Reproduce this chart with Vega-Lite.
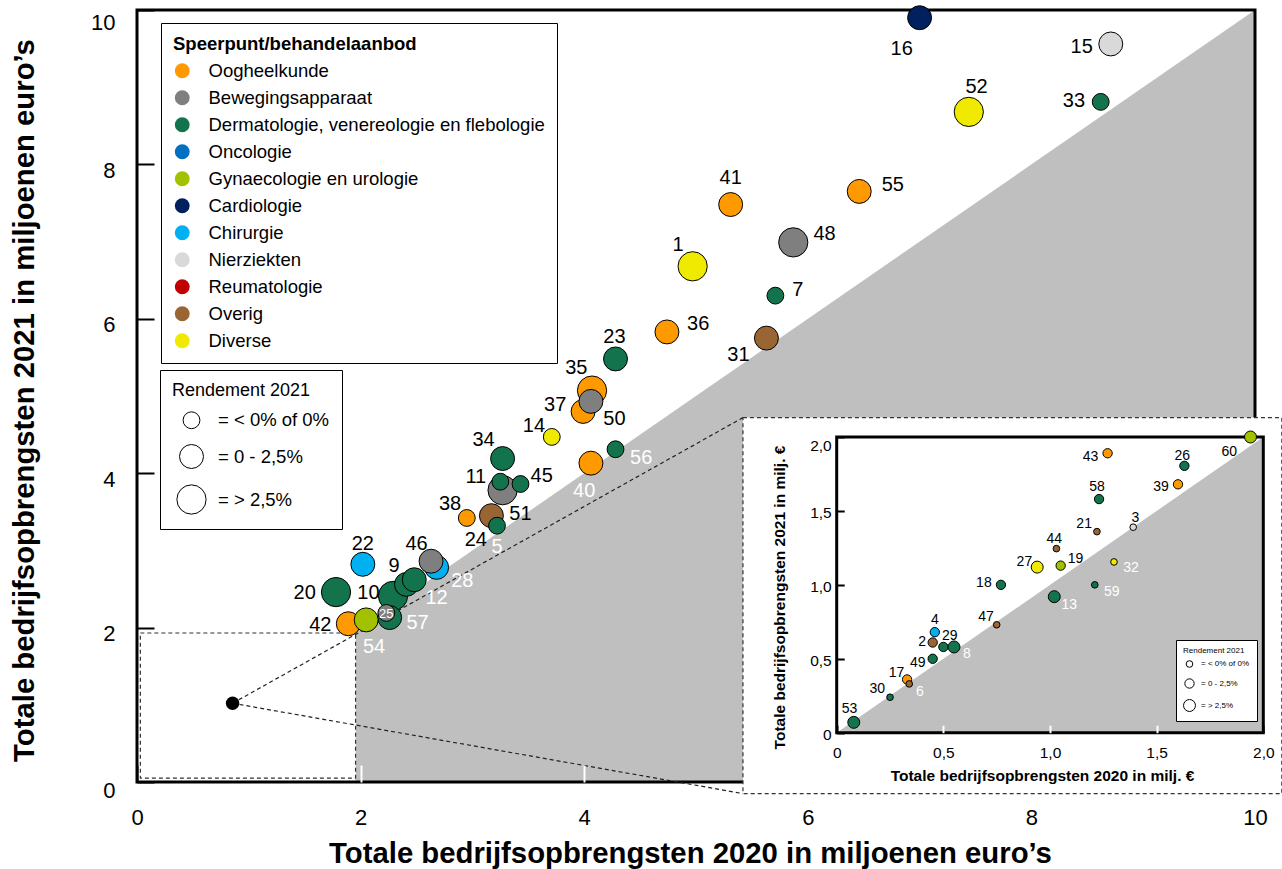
{
  "$schema": "https://vega.github.io/schema/vega-lite/v6.json",
  "width": 1118,
  "height": 772,
  "autosize": {"type": "none"},
  "padding": {"left": 137, "top": 10, "right": 27, "bottom": 87},
  "background": "white",
  "config": {
    "font": "Liberation Sans",
    "view": {"stroke": null},
    "axis": {"grid": false, "domain": false, "labelColor": "black", "titleColor": "black"},
    "legend": {"symbolBaseFillColor": "white", "symbolBaseStrokeColor": "black", "labelColor": "black", "titleColor": "black"}
  },
  "datasets": {
    "main": [
      {"id": 20, "x": 1.78, "y": 2.46, "cat": "Dermatologie, venereologie en flebologie", "r": "= > 2,5%", "lx": 1.50, "ly": 2.46},
      {"id": 22, "x": 2.02, "y": 2.82, "cat": "Chirurgie", "r": "= 0 - 2,5%", "lx": 2.02, "ly": 3.09},
      {"id": 10, "x": 2.29, "y": 2.41, "cat": "Dermatologie, venereologie en flebologie", "r": "= > 2,5%", "lx": 2.07, "ly": 2.46},
      {"id": 9, "x": 2.41, "y": 2.56, "cat": "Dermatologie, venereologie en flebologie", "r": "= 0 - 2,5%", "lx": 2.30, "ly": 2.81},
      {"id": 12, "x": 2.48, "y": 2.62, "cat": "Dermatologie, venereologie en flebologie", "r": "= 0 - 2,5%", "lx": 2.68, "ly": 2.40},
      {"id": 28, "x": 2.68, "y": 2.78, "cat": "Chirurgie", "r": "= 0 - 2,5%", "lx": 2.91, "ly": 2.62},
      {"id": 46, "x": 2.63, "y": 2.86, "cat": "Bewegingsapparaat", "r": "= 0 - 2,5%", "lx": 2.50, "ly": 3.09},
      {"id": 57, "x": 2.26, "y": 2.13, "cat": "Dermatologie, venereologie en flebologie", "r": "= 0 - 2,5%", "lx": 2.51, "ly": 2.07},
      {"id": 25, "x": 2.23, "y": 2.19, "cat": "Bewegingsapparaat", "r": "= < 0% of 0%", "lx": 2.23, "ly": 2.19},
      {"id": 42, "x": 1.89, "y": 2.05, "cat": "Oogheelkunde", "r": "= 0 - 2,5%", "lx": 1.64, "ly": 2.05},
      {"id": 54, "x": 2.05, "y": 2.10, "cat": "Gynaecologie en urologie", "r": "= 0 - 2,5%", "lx": 2.12, "ly": 1.76},
      {"id": 38, "x": 2.95, "y": 3.42, "cat": "Oogheelkunde", "r": "= < 0% of 0%", "lx": 2.80, "ly": 3.62},
      {"id": 51, "x": 3.27, "y": 3.78, "cat": "Bewegingsapparaat", "r": "= > 2,5%", "lx": 3.43, "ly": 3.48},
      {"id": 24, "x": 3.17, "y": 3.45, "cat": "Overig", "r": "= 0 - 2,5%", "lx": 3.03, "ly": 3.15},
      {"id": 5, "x": 3.22, "y": 3.32, "cat": "Dermatologie, venereologie en flebologie", "r": "= < 0% of 0%", "lx": 3.22, "ly": 3.06},
      {"id": 34, "x": 3.27, "y": 4.19, "cat": "Dermatologie, venereologie en flebologie", "r": "= 0 - 2,5%", "lx": 3.10, "ly": 4.44},
      {"id": 11, "x": 3.25, "y": 3.89, "cat": "Dermatologie, venereologie en flebologie", "r": "= < 0% of 0%", "lx": 3.03, "ly": 3.96},
      {"id": 45, "x": 3.43, "y": 3.86, "cat": "Dermatologie, venereologie en flebologie", "r": "= < 0% of 0%", "lx": 3.62, "ly": 3.98},
      {"id": 14, "x": 3.71, "y": 4.47, "cat": "Diverse", "r": "= < 0% of 0%", "lx": 3.55, "ly": 4.62},
      {"id": 35, "x": 4.07, "y": 5.07, "cat": "Oogheelkunde", "r": "= > 2,5%", "lx": 3.93, "ly": 5.38},
      {"id": 37, "x": 3.99, "y": 4.80, "cat": "Oogheelkunde", "r": "= 0 - 2,5%", "lx": 3.74, "ly": 4.90},
      {"id": 50, "x": 4.06, "y": 4.93, "cat": "Bewegingsapparaat", "r": "= 0 - 2,5%", "lx": 4.27, "ly": 4.72},
      {"id": 40, "x": 4.06, "y": 4.13, "cat": "Oogheelkunde", "r": "= 0 - 2,5%", "lx": 4.00, "ly": 3.78},
      {"id": 56, "x": 4.28, "y": 4.31, "cat": "Dermatologie, venereologie en flebologie", "r": "= < 0% of 0%", "lx": 4.51, "ly": 4.21},
      {"id": 23, "x": 4.28, "y": 5.48, "cat": "Dermatologie, venereologie en flebologie", "r": "= 0 - 2,5%", "lx": 4.27, "ly": 5.78},
      {"id": 36, "x": 4.74, "y": 5.83, "cat": "Oogheelkunde", "r": "= 0 - 2,5%", "lx": 5.02, "ly": 5.95},
      {"id": 1, "x": 4.97, "y": 6.68, "cat": "Diverse", "r": "= > 2,5%", "lx": 4.84, "ly": 6.97},
      {"id": 31, "x": 5.63, "y": 5.75, "cat": "Overig", "r": "= 0 - 2,5%", "lx": 5.38, "ly": 5.55},
      {"id": 7, "x": 5.71, "y": 6.30, "cat": "Dermatologie, venereologie en flebologie", "r": "= < 0% of 0%", "lx": 5.91, "ly": 6.38},
      {"id": 48, "x": 5.87, "y": 6.99, "cat": "Bewegingsapparaat", "r": "= > 2,5%", "lx": 6.15, "ly": 7.11},
      {"id": 41, "x": 5.31, "y": 7.48, "cat": "Oogheelkunde", "r": "= 0 - 2,5%", "lx": 5.31, "ly": 7.84},
      {"id": 55, "x": 6.46, "y": 7.65, "cat": "Oogheelkunde", "r": "= 0 - 2,5%", "lx": 6.76, "ly": 7.75},
      {"id": 52, "x": 7.44, "y": 8.68, "cat": "Diverse", "r": "= > 2,5%", "lx": 7.51, "ly": 9.02},
      {"id": 16, "x": 7.00, "y": 9.90, "cat": "Cardiologie", "r": "= 0 - 2,5%", "lx": 6.84, "ly": 9.51},
      {"id": 15, "x": 8.71, "y": 9.56, "cat": "Nierziekten", "r": "= 0 - 2,5%", "lx": 8.45, "ly": 9.54},
      {"id": 33, "x": 8.62, "y": 8.81, "cat": "Dermatologie, venereologie en flebologie", "r": "= < 0% of 0%", "lx": 8.38, "ly": 8.83}
    ],
    "inset": [
      {"id": 53, "x": 0.08, "y": 0.07, "cat": "Dermatologie, venereologie en flebologie", "r": "= > 2,5%", "lx": 0.06, "ly": 0.17},
      {"id": 30, "x": 0.25, "y": 0.24, "cat": "Dermatologie, venereologie en flebologie", "r": "= < 0% of 0%", "lx": 0.19, "ly": 0.30},
      {"id": 17, "x": 0.33, "y": 0.36, "cat": "Oogheelkunde", "r": "= 0 - 2,5%", "lx": 0.28, "ly": 0.41},
      {"id": 6, "x": 0.34, "y": 0.33, "cat": "Overig", "r": "= < 0% of 0%", "lx": 0.39, "ly": 0.28},
      {"id": 49, "x": 0.45, "y": 0.50, "cat": "Dermatologie, venereologie en flebologie", "r": "= 0 - 2,5%", "lx": 0.38, "ly": 0.48},
      {"id": 4, "x": 0.46, "y": 0.68, "cat": "Chirurgie", "r": "= 0 - 2,5%", "lx": 0.46, "ly": 0.77},
      {"id": 2, "x": 0.45, "y": 0.61, "cat": "Overig", "r": "= 0 - 2,5%", "lx": 0.40, "ly": 0.62},
      {"id": 29, "x": 0.50, "y": 0.58, "cat": "Dermatologie, venereologie en flebologie", "r": "= 0 - 2,5%", "lx": 0.53, "ly": 0.66},
      {"id": 8, "x": 0.55, "y": 0.58, "cat": "Dermatologie, venereologie en flebologie", "r": "= > 2,5%", "lx": 0.61, "ly": 0.54},
      {"id": 47, "x": 0.75, "y": 0.73, "cat": "Overig", "r": "= < 0% of 0%", "lx": 0.70, "ly": 0.79},
      {"id": 18, "x": 0.77, "y": 1.00, "cat": "Dermatologie, venereologie en flebologie", "r": "= 0 - 2,5%", "lx": 0.69, "ly": 1.02},
      {"id": 13, "x": 1.02, "y": 0.92, "cat": "Dermatologie, venereologie en flebologie", "r": "= > 2,5%", "lx": 1.09, "ly": 0.87},
      {"id": 27, "x": 0.94, "y": 1.12, "cat": "Diverse", "r": "= > 2,5%", "lx": 0.88, "ly": 1.16},
      {"id": 19, "x": 1.05, "y": 1.13, "cat": "Gynaecologie en urologie", "r": "= 0 - 2,5%", "lx": 1.12, "ly": 1.18},
      {"id": 44, "x": 1.03, "y": 1.245, "cat": "Overig", "r": "= < 0% of 0%", "lx": 1.02, "ly": 1.32},
      {"id": 59, "x": 1.21, "y": 1.00, "cat": "Dermatologie, venereologie en flebologie", "r": "= < 0% of 0%", "lx": 1.29, "ly": 0.96},
      {"id": 32, "x": 1.30, "y": 1.155, "cat": "Diverse", "r": "= < 0% of 0%", "lx": 1.38, "ly": 1.12},
      {"id": 21, "x": 1.22, "y": 1.36, "cat": "Overig", "r": "= < 0% of 0%", "lx": 1.16, "ly": 1.42},
      {"id": 3, "x": 1.39, "y": 1.39, "cat": "Nierziekten", "r": "= < 0% of 0%", "lx": 1.40, "ly": 1.46},
      {"id": 58, "x": 1.23, "y": 1.58, "cat": "Dermatologie, venereologie en flebologie", "r": "= 0 - 2,5%", "lx": 1.22, "ly": 1.67},
      {"id": 43, "x": 1.27, "y": 1.89, "cat": "Oogheelkunde", "r": "= 0 - 2,5%", "lx": 1.19, "ly": 1.87},
      {"id": 39, "x": 1.60, "y": 1.68, "cat": "Oogheelkunde", "r": "= 0 - 2,5%", "lx": 1.52, "ly": 1.67},
      {"id": 26, "x": 1.63, "y": 1.805, "cat": "Dermatologie, venereologie en flebologie", "r": "= 0 - 2,5%", "lx": 1.62, "ly": 1.88},
      {"id": 60, "x": 1.94, "y": 2.00, "cat": "Gynaecologie en urologie", "r": "= > 2,5%", "lx": 1.84, "ly": 1.905}
    ],
    "connectors": [
      {"x": 0.855, "y": 1.02, "x2": 5.42, "y2": 4.72},
      {"x": 0.855, "y": 1.02, "x2": 5.42, "y2": -0.15}
    ]
  },
  "layer": [
    {
      "layer": [
        {
          "data": {"values": [{"x": 1.955, "y": 1.955}, {"x": 10, "y": 10}]},
          "mark": {"type": "area", "color": "#bfbfbf", "opacity": 1},
          "encoding": {
            "x": {"field": "x", "type": "quantitative",
              "scale": {"domain": [0, 10], "nice": false, "zero": false},
              "axis": {
                "title": "Totale bedrijfsopbrengsten 2020 in miljoenen euro’s",
                "orient": "bottom", "values": [0, 2, 4, 6, 8, 10], "format": "d", "zindex": 1,
                "labelFlush": false, "labelFontSize": 22, "labelPadding": 42,
                "tickSize": -17, "tickWidth": 2,
                "tickColor": {"condition": {"test": "datum.value == 0", "value": "black"}, "value": "white"},
                "titleFontSize": 29.3, "titleFontWeight": "bold", "titleX": 553, "titleY": 80,
                "titleAlign": "center", "titleBaseline": "alphabetic"
              }
            },
            "y": {"field": "y", "type": "quantitative",
              "scale": {"domain": [0, 10], "nice": false, "zero": false},
              "axis": {
                "title": "Totale bedrijfsopbrengsten 2021 in miljoenen euro’s",
                "orient": "left", "values": [0, 2, 4, 6, 8, 10], "format": "d", "zindex": 1,
                "labelFlush": false, "labelFontSize": 22, "labelPadding": 39,
                "labelOffset": {"condition": [{"test": "datum.value == 10", "value": 12.5}, {"test": "datum.value == 0", "value": 8}], "value": 6},
                "tickSize": -17, "tickWidth": 2, "tickColor": "black",
                "titleFontSize": 29.3, "titleFontWeight": "bold", "titleAngle": -90,
                "titleX": -104, "titleY": 390, "titleAlign": "center", "titleBaseline": "alphabetic"
              }
            },
            "y2": {"datum": 0}
          }
        },
        {
          "data": {"values": [{"x": 0.03, "x2": 1.955, "y": 0.05, "y2": 1.93}]},
          "mark": {"type": "rect", "fill": "white", "stroke": "#333333", "strokeWidth": 1.2, "strokeDash": [4, 3]},
          "encoding": {
            "x": {"field": "x", "type": "quantitative"},
            "x2": {"field": "x2"},
            "y": {"field": "y", "type": "quantitative"},
            "y2": {"field": "y2"}
          }
        },
        {
          "data": {"values": [{"x": 0, "x2": 10, "y": 0, "y2": 10}]},
          "mark": {"type": "rect", "fill": "transparent", "stroke": "black", "strokeWidth": 3},
          "encoding": {
            "x": {"field": "x", "type": "quantitative"},
            "x2": {"field": "x2"},
            "y": {"field": "y", "type": "quantitative"},
            "y2": {"field": "y2"}
          }
        },
        {
          "data": {"name": "connectors"},
          "mark": {"type": "rule", "color": "#222222", "strokeWidth": 1.2, "strokeDash": [4, 3]},
          "encoding": {
            "x": {"field": "x", "type": "quantitative"},
            "x2": {"field": "x2"},
            "y": {"field": "y", "type": "quantitative"},
            "y2": {"field": "y2"}
          }
        },
        {
          "data": {"values": [{"x": 0.855, "y": 1.02}]},
          "mark": {"type": "circle", "color": "black", "size": 180, "opacity": 1},
          "encoding": {
            "x": {"field": "x", "type": "quantitative"},
            "y": {"field": "y", "type": "quantitative"}
          }
        },
        {
          "data": {"name": "main"},
          "mark": {"type": "circle", "stroke": "black", "strokeWidth": 1, "opacity": 1},
          "encoding": {
            "x": {"field": "x", "type": "quantitative"},
            "y": {"field": "y", "type": "quantitative"},
            "color": {"field": "cat", "type": "nominal",
              "scale": {
                "domain": ["Oogheelkunde", "Bewegingsapparaat", "Dermatologie, venereologie en flebologie", "Oncologie", "Gynaecologie en urologie", "Cardiologie", "Chirurgie", "Nierziekten", "Reumatologie", "Overig", "Diverse"],
                "range": ["#FF9900", "#7F7F7F", "#13734D", "#0070C0", "#A2C200", "#002060", "#00B0F0", "#D9D9D9", "#C00000", "#996633", "#F0EA00"]
              },
              "legend": {
                "title": "Speerpunt/behandelaanbod", "orient": "none", "legendX": 24, "legendY": 13,
                "padding": 12, "strokeColor": "black", "fillColor": "white",
                "titleFontSize": 18.5, "titleFontWeight": "bold", "titlePadding": 8, "titleLimit": 600,
                "labelFontSize": 18.5, "labelLimit": 600, "labelOffset": 17, "rowPadding": 8,
                "symbolType": "circle", "symbolSize": 220, "symbolStrokeWidth": 0
              }
            },
            "size": {"field": "r", "type": "ordinal",
              "scale": {"type": "ordinal", "domain": ["= < 0% of 0%", "= 0 - 2,5%", "= > 2,5%"], "range": [283, 573, 855]},
              "legend": {
                "title": "Rendement 2021", "orient": "none", "legendX": 23, "legendY": 360,
                "padding": 12, "strokeColor": "black", "fillColor": "white",
                "titleFontSize": 18, "titleFontWeight": "normal", "titlePadding": 11,
                "labelFontSize": 18.5, "labelOffset": 11, "symbolOffset": 4, "rowPadding": 11, "labelLimit": 400,
                "symbolType": "circle", "symbolFillColor": "white", "symbolStrokeColor": "black", "symbolStrokeWidth": 1
              }
            }
          }
        },
        {
          "data": {"name": "main"},
          "mark": {"type": "text", "fontSize": 20, "align": "center", "baseline": "middle", "dy": 1},
          "encoding": {
            "x": {"field": "lx", "type": "quantitative"},
            "y": {"field": "ly", "type": "quantitative"},
            "text": {"field": "id", "type": "nominal"},
            "size": {"condition": {"test": "datum.id == 25", "value": 13}, "value": 20},
            "color": {"condition": {"test": "datum.ly < datum.lx", "value": "white"}, "value": "black"}
          }
        },
        {
          "data": {"values": [{"x": 5.42, "x2": 10.24, "y": -0.15, "y2": 4.72}]},
          "mark": {"type": "rect", "fill": "white", "stroke": "#333333", "strokeWidth": 1.2, "strokeDash": [4, 3]},
          "encoding": {
            "x": {"field": "x", "type": "quantitative"},
            "x2": {"field": "x2"},
            "y": {"field": "y", "type": "quantitative"},
            "y2": {"field": "y2"}
          }
        }
      ]
    },
    {
      "layer": [
        {
          "data": {"values": [{"x": 0, "y": 0}, {"x": 2, "y": 2}]},
          "mark": {"type": "area", "color": "#bfbfbf", "opacity": 1},
          "encoding": {
            "x": {"field": "x", "type": "quantitative",
              "scale": {"domain": [0, 2], "range": [699.7, 1126.3], "nice": false, "zero": false},
              "axis": {
                "title": "Totale bedrijfsopbrengsten 2020 in milj. €",
                "orient": "bottom", "offset": -49.3, "values": [0, 0.5, 1, 1.5, 2], "zindex": 1,
                "labelExpr": "datum.value == 0 ? '0' : replace(format(datum.value, '.1f'), '.', ',')",
                "labelFlush": false, "labelFontSize": 15.5, "labelPadding": 20,
                "tickSize": -7.5, "tickWidth": 2,
                "tickColor": {"condition": {"test": "datum.value == 0 || datum.value == 2", "value": "black"}, "value": "white"},
                "titleFontSize": 15.5, "titleFontWeight": "bold", "titleX": 905, "titleY": 47.7,
                "titleAlign": "center", "titleBaseline": "alphabetic"
              }
            },
            "y": {"field": "y", "type": "quantitative",
              "scale": {"domain": [0, 2], "range": [722.7, 427], "nice": false, "zero": false},
              "axis": {
                "title": "Totale bedrijfsopbrengsten 2021 in milj. €",
                "orient": "left", "offset": -699.7, "values": [0, 0.5, 1, 1.5, 2], "zindex": 1,
                "labelExpr": "datum.value == 0 ? '0' : replace(format(datum.value, '.1f'), '.', ',')",
                "labelFlush": false, "labelFontSize": 15.5, "labelPadding": 13,
                "labelOffset": {"condition": {"test": "datum.value == 2", "value": 8}, "value": 1.3},
                "tickSize": -7.5, "tickWidth": 2, "tickColor": "black",
                "titleFontSize": 15.5, "titleFontWeight": "bold", "titleAngle": -90,
                "titleX": -52, "titleY": 587, "titleAlign": "center", "titleBaseline": "alphabetic"
              }
            },
            "y2": {"datum": 0}
          }
        },
        {
          "data": {"values": [{"x": 0, "x2": 2, "y": 0, "y2": 2}]},
          "mark": {"type": "rect", "fill": "transparent", "stroke": "black", "strokeWidth": 3},
          "encoding": {
            "x": {"field": "x", "type": "quantitative"},
            "x2": {"field": "x2"},
            "y": {"field": "y", "type": "quantitative"},
            "y2": {"field": "y2"}
          }
        },
        {
          "data": {"name": "inset"},
          "mark": {"type": "circle", "stroke": "black", "strokeWidth": 1, "opacity": 1},
          "encoding": {
            "x": {"field": "x", "type": "quantitative"},
            "y": {"field": "y", "type": "quantitative"},
            "color": {"field": "cat", "type": "nominal", "legend": null},
            "size": {"field": "r", "type": "ordinal",
              "scale": {"type": "ordinal", "domain": ["= < 0% of 0%", "= 0 - 2,5%", "= > 2,5%"], "range": [44, 87, 143]},
              "legend": {
                "title": "Rendement 2021", "orient": "none", "legendX": 1039, "legendY": 630,
                "padding": 7, "strokeColor": "black", "fillColor": "white",
                "titleFontSize": 8, "titleFontWeight": "normal", "titlePadding": 5,
                "labelFontSize": 8, "labelOffset": 5, "rowPadding": 6, "labelLimit": 200,
                "symbolType": "circle", "symbolFillColor": "white", "symbolStrokeColor": "black", "symbolStrokeWidth": 1
              }
            }
          }
        },
        {
          "data": {"name": "inset"},
          "mark": {"type": "text", "fontSize": 14, "align": "center", "baseline": "middle", "dy": 1},
          "encoding": {
            "x": {"field": "lx", "type": "quantitative"},
            "y": {"field": "ly", "type": "quantitative"},
            "text": {"field": "id", "type": "nominal"},
            "color": {"condition": {"test": "datum.ly < datum.lx", "value": "white"}, "value": "black"}
          }
        }
      ]
    }
  ],
  "resolve": {
    "scale": {"x": "independent", "y": "independent", "size": "independent"},
    "axis": {"x": "independent", "y": "independent"},
    "legend": {"size": "independent"}
  }
}
